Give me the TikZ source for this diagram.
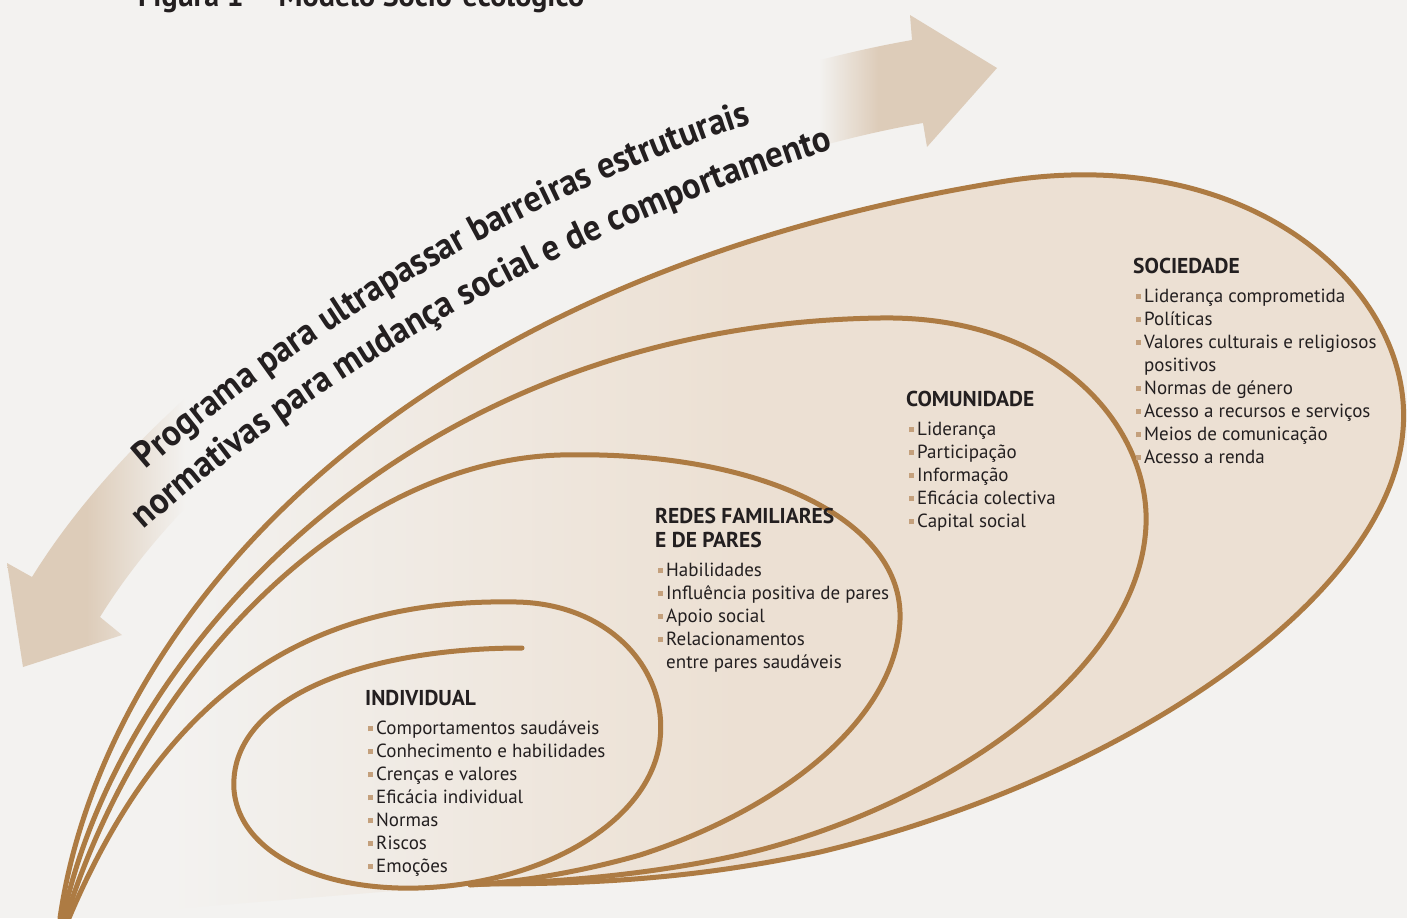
\documentclass[tikz,border=0pt]{standalone}
\usepackage{fontspec}
\setmainfont{PT Sans}
\newfontfamily\bandfont{PT Sans Bold}[FakeStretch=0.94]
\usetikzlibrary{positioning}
\usetikzlibrary{decorations.text}

\definecolor{paper}{HTML}{F3F2F0}
\definecolor{ring}{HTML}{AD7B43}
\definecolor{beige}{HTML}{ECE0D3}
\definecolor{band}{HTML}{DDCCB9}
\definecolor{dot}{HTML}{C4A07C}
\definecolor{ink}{HTML}{231F20}

\pgfdeclarehorizontalshading{bandshade}{100bp}{color(0bp)=(band); color(29bp)=(band);
  color(34bp)=(paper); color(66bp)=(paper); color(69bp)=(band); color(100bp)=(band)}
\pgfdeclarehorizontalshading{fillshade}{100bp}{color(0bp)=(paper); color(29bp)=(paper);
  color(50bp)=(beige); color(100bp)=(beige)}

\newcommand{\bul}{\textcolor{dot}{\rule[3.5pt]{5pt}{5pt}}\hspace{3pt}}
\newcommand{\cont}{\hspace*{8pt}}

\tikzset{
  ringline/.style={draw=ring, line width=5pt, line cap=round},
  head/.style={anchor=north west, inner sep=0pt, text=ink, align=left,
    font=\bfseries\fontsize{21.5}{24}\selectfont},
  items/.style={inner sep=0pt, text=ink, align=left,
    font=\fontsize{19}{23}\selectfont},
  bandtext/.style={decorate, decoration={text along path, text color=ink, text={#1}}}
}

\begin{document}
\begin{tikzpicture}[x=1pt, y=-1pt]
  \clip (0,0) rectangle (1407,918);
  \fill[paper] (0,0) rectangle (1407,918);

  % double arrow behind the slogan
  \shade[shading=bandshade] (23,667) -- (7,563) -- (32,577)
    .. controls (190,322) and (587,97) .. (912,40)
    -- (910,15) -- (997,68) -- (927,147) -- (923,123)
    .. controls (627,175) and (247,379) .. (100,617)
    -- (122,635) -- cycle;

  \path[bandtext={|\bandfont\fontsize{37}{37}\selectfont|Programa para ultrapassar barreiras estruturais}]
    (146,470) .. controls (290,346) and (540,176) .. (820,104);
  \path[bandtext={|\bandfont\fontsize{37}{37}\selectfont|normativas para mudança social e de comportamento}]
    (144,530) .. controls (302,390) and (566,220) .. (910,126);

  \node (title) [anchor=base west, inner sep=0pt, text=ink,
    font=\bfseries\fontsize{30}{34}\selectfont] at (138,6) {Figura 1 – Modelo Sócio-ecológico};

  % beige ground inside the outer ring
  \shade[shading=fillshade] (60,918)
    .. controls (100,640) and (370,285) .. (1000,182)
    .. controls (1250,140) and (1415,290) .. (1403,430)
    .. controls (1390,600) and (1120,780) .. (820,852)
    .. controls (700,878) and (600,884) .. (480,884) -- cycle;

  % rings
  \draw[ringline] (60,918)
    .. controls (100,640) and (370,285) .. (1000,182)
    .. controls (1250,140) and (1415,290) .. (1403,430)
    .. controls (1390,600) and (1120,780) .. (820,852)
    .. controls (700,878) and (600,884) .. (480,884);
  \draw[ringline] (63,918)
    .. controls (120,650) and (410,325) .. (880,318)
    .. controls (1060,315) and (1150,430) .. (1146,525)
    .. controls (1140,670) and (950,800) .. (760,850)
    .. controls (680,870) and (580,882) .. (480,884);
  \draw[ringline] (66,918)
    .. controls (140,680) and (340,462) .. (560,455)
    .. controls (760,450) and (904,520) .. (900,620)
    .. controls (896,720) and (780,810) .. (640,855)
    .. controls (580,872) and (520,882) .. (470,885);
  \draw[ringline] (69,918)
    .. controls (170,680) and (320,598) .. (517,602)
    .. controls (610,604) and (668,670) .. (660,740)
    .. controls (652,810) and (570,870) .. (456,885)
    .. controls (340,900) and (240,860) .. (234,790)
    .. controls (228,700) and (360,648) .. (522,648);

  % levels
  \node (socHead) [head] at (1133,258) {SOCIEDADE};
  \node (socList) [items, below right=15pt and 3pt of socHead.south west] {%
    \bul Liderança comprometida\\ \bul Políticas\\
    \bul Valores culturais e religiosos\\ \cont positivos\\
    \bul Normas de género\\ \bul Acesso a recursos e serviços\\
    \bul Meios de comunicação\\ \bul Acesso a renda};

  \node (comHead) [head] at (906,391) {COMUNIDADE};
  \node (comList) [items, below right=15pt and 3pt of comHead.south west] {%
    \bul Liderança\\ \bul Participação\\ \bul Informação\\
    \bul Eficácia colectiva\\ \bul Capital social};

  \node (redesHead) [head] at (655,508) {REDES FAMILIARES\\ E DE PARES};
  \node (redesList) [items, below right=15pt and 3pt of redesHead.south west] {%
    \bul Habilidades\\ \bul Influência positiva de pares\\ \bul Apoio social\\
    \bul Relacionamentos\\ \cont entre pares saudáveis};

  \node (indHead) [head] at (365,690) {INDIVIDUAL};
  \node (indList) [items, below right=15pt and 3pt of indHead.south west] {%
    \bul Comportamentos saudáveis\\ \bul Conhecimento e habilidades\\
    \bul Crenças e valores\\ \bul Eficácia individual\\
    \bul Normas\\ \bul Riscos\\ \bul Emoções};
\end{tikzpicture}
\end{document}
